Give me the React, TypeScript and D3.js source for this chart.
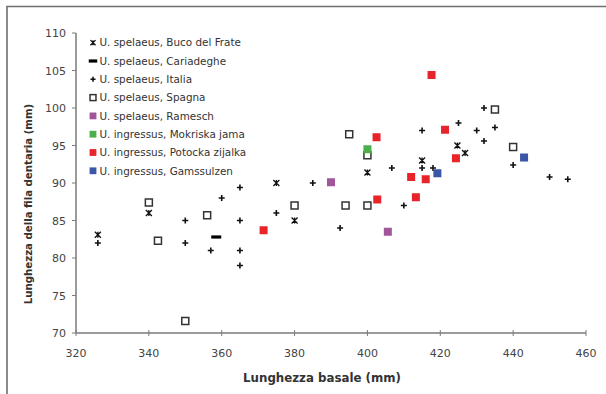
import * as d3 from "d3"

// data (x = lunghezza basale, y = lunghezza fila dentaria)
const bucoDelFrate = [[326, 83.1], [340, 86], [375, 90], [380, 85], [400, 91.4], [415, 93], [424.7, 95], [426.8, 94]]
const cariadeghe = [[358.5, 82.8]]
const italia = [
  [326, 82], [350, 85], [350, 82], [357, 81], [360, 88], [365, 89.4], [365, 85], [365, 81], [365, 79],
  [375, 86], [385, 90], [392.5, 84], [406.7, 92], [410, 87], [415, 97], [415, 92], [418, 92], [425, 98],
  [430, 97], [432, 100], [432, 95.6], [435, 97.4], [440, 92.4], [450, 90.8], [455, 90.5],
]
const spagna = [
  [340, 87.4], [342.5, 82.3], [350, 71.6], [356, 85.7], [380, 87], [394, 87], [395, 96.5], [400, 93.7],
  [400, 87], [435, 99.8], [440, 94.8],
]
const ramesch = [[390, 90.1], [405.6, 83.5]]
const mokriska = [[400, 94.5]]
const potocka = [
  [371.5, 83.7], [402.5, 96.1], [402.7, 87.8], [412, 90.8], [413.3, 88.1], [416, 90.5], [417.6, 104.4],
  [421.3, 97.1], [424.3, 93.3],
]
const gamssulzen = [[419.2, 91.3], [443, 93.4]]

const xTicks = [320, 340, 360, 380, 400, 420, 440, 460]
const yTicks = [70, 75, 80, 85, 90, 95, 100, 105, 110]

const series = [
  { name: "U. spelaeus, Buco del Frate", data: bucoDelFrate, marker: "star", color: "#111" },
  { name: "U. spelaeus, Cariadeghe", data: cariadeghe, marker: "dash", color: "#000" },
  { name: "U. spelaeus, Italia", data: italia, marker: "plus", color: "#111" },
  { name: "U. spelaeus, Spagna", data: spagna, marker: "open", color: "#333" },
  { name: "U. spelaeus, Ramesch", data: ramesch, marker: "square", color: "#a0569a" },
  { name: "U. ingressus, Mokriska jama", data: mokriska, marker: "square", color: "#4cb04a" },
  { name: "U. ingressus, Potocka zijalka", data: potocka, marker: "square", color: "#e8242a" },
  { name: "U. ingressus, Gamssulzen", data: gamssulzen, marker: "square", color: "#3b56a6" },
]

const W = 606
const H = 394
const x = d3.scaleLinear().domain([320, 460]).range([76, 586])
const y = d3.scaleLinear().domain([70, 110]).range([333, 33])

function Marker({ kind, color, cx, cy, small }: any) {
  const s = small ? 0.85 : 1
  if (kind === "star") {
    const r = 3 * s
    return (
      <path
        d={`M${cx - r},${cy - r}L${cx + r},${cy + r}M${cx - r},${cy + r}L${cx + r},${cy - r}M${cx},${cy - r}L${cx},${cy + r}`}
        stroke={color}
        strokeWidth={1.3}
        fill="none"
      />
    )
  }
  if (kind === "dash") {
    return <rect x={cx - 5 * s} y={cy - 1.6} width={10 * s} height={3.2} fill={color} />
  }
  if (kind === "plus") {
    const r = 3 * s
    return (
      <path
        d={`M${cx - r},${cy}L${cx + r},${cy}M${cx},${cy - r}L${cx},${cy + r}`}
        stroke={color}
        strokeWidth={1.6}
        fill="none"
      />
    )
  }
  if (kind === "open") {
    const r = 3.5 * s
    return <rect x={cx - r} y={cy - r} width={2 * r} height={2 * r} fill="#fff" stroke={color} strokeWidth={1.5} />
  }
  const r = 4 * s
  return <rect x={cx - r} y={cy - r} width={2 * r} height={2 * r} fill={color} />
}

export default function App() {
  const font = "'DejaVu Sans', Verdana, sans-serif"
  return (
    <div style={{ position: "fixed", left: 0, top: 0 }}>
      <svg width={W} height={H} style={{ display: "block", background: "#fff" }}>
        {/* outer frame */}
        <path d={`M7,${H}L7,6.5L${W},6.5`} fill="none" stroke="#6e6e6e" strokeWidth={1.6} />

        {/* axes */}
        <line x1={x(320)} x2={x(460)} y1={y(70)} y2={y(70)} stroke="#7a7a7a" strokeWidth={1.5} />
        <line x1={x(320)} x2={x(320)} y1={y(70)} y2={y(110)} stroke="#7a7a7a" strokeWidth={1.5} />

        {xTicks.map((t) => (
          <g key={"x" + t}>
            <line x1={x(t)} x2={x(t)} y1={y(70) - 3} y2={y(70) + 3} stroke="#7a7a7a" />
            <text x={x(t)} y={357} textAnchor="middle" fontSize={11} fontFamily={font} fill="#444">
              {t}
            </text>
          </g>
        ))}
        {yTicks.map((t) => (
          <g key={"y" + t}>
            <line x1={x(320) - 4} x2={x(320)} y1={y(t)} y2={y(t)} stroke="#7a7a7a" />
            <text x={66} y={y(t) + 4} textAnchor="end" fontSize={11} fontFamily={font} fill="#444">
              {t}
            </text>
          </g>
        ))}

        <text x={322} y={382} textAnchor="middle" fontSize={11.8} fontWeight="bold" fontFamily={font} fill="#333">
          Lunghezza basale (mm)
        </text>
        <text
          transform={`translate(32,204) rotate(-90)`}
          textAnchor="middle"
          fontSize={10.2}
          fontWeight="bold"
          fontFamily={font}
          fill="#333"
        >
          Lunghezza della fila dentaria (mm)
        </text>

        {/* points */}
        {series.map((s) => (
          <g key={s.name}>
            {s.data.map((d, i) => (
              <Marker key={i} kind={s.marker} color={s.color} cx={x(d[0])} cy={y(d[1])} />
            ))}
          </g>
        ))}

        {/* legend */}
        {series.map((s, i) => (
          <g key={"l" + s.name} transform={`translate(0,${42.7 + i * 18.3})`}>
            <Marker kind={s.marker} color={s.color} cx={93} cy={0} small />
            <text x={99.5} y={3.7} fontSize={10.4} fontFamily={font} fill="#333">
              {s.name}
            </text>
          </g>
        ))}
      </svg>
    </div>
  )
}
